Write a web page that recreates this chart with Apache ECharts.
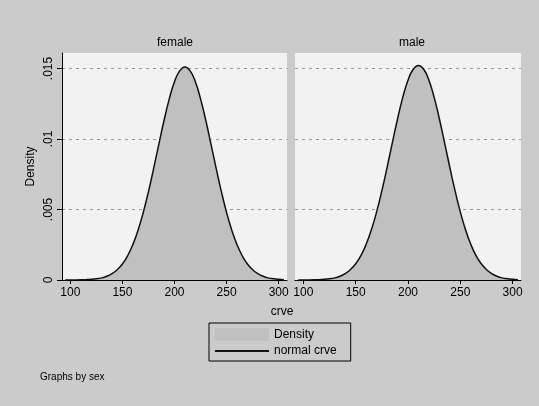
<!DOCTYPE html>
<html>
	<head>
		<meta charset="utf-8">
		<title>crve by sex</title>
		<script src="https://cdn.jsdelivr.net/npm/echarts@6/dist/echarts.min.js"></script>
		<style>
			body { margin: 0; background: #cbcbcb; }
			#main { width: 539px; height: 406px; }
		</style>
	</head>
	<body>
		<div id="main"></div>
		<script type="text/javascript">
			var crve = [95, 100, 105, 110, 115, 120, 125, 130, 135, 140, 145, 150, 155, 160, 165, 170, 175, 180, 185, 190,
				195, 200, 205, 210, 215, 220, 225, 230, 235, 240, 245, 250, 255, 260, 265, 270, 275, 280, 285, 290, 295, 300, 305];
			var female = [0.000001, 0.000003, 0.000006, 0.000012, 0.000023, 0.000045, 0.000085, 0.00015, 0.00027, 0.00045,
				0.00073, 0.00114, 0.00172, 0.00251, 0.00353, 0.00479, 0.00627, 0.00792, 0.00964, 0.01133,
				0.01285, 0.01406, 0.01483, 0.01510, 0.01483, 0.01406, 0.01285, 0.01133, 0.00964, 0.00792,
				0.00627, 0.00479, 0.00353, 0.00251, 0.00172, 0.00114, 0.00073, 0.00045, 0.00027, 0.00015,
				0.000085, 0.000045, 0.000023];
			var male = [0.000001, 0.000003, 0.000006, 0.000012, 0.000023, 0.000045, 0.000086, 0.00015, 0.00027, 0.00045,
				0.00074, 0.00115, 0.00173, 0.00253, 0.00356, 0.00483, 0.00632, 0.00798, 0.00972, 0.01142,
				0.01295, 0.01417, 0.01495, 0.01522, 0.01495, 0.01417, 0.01295, 0.01142, 0.00972, 0.00798,
				0.00632, 0.00483, 0.00356, 0.00253, 0.00173, 0.00115, 0.00074, 0.00045, 0.00027, 0.00015,
				0.000086, 0.000045, 0.000023];
			var panels = ['female', 'male'];
			var xTicks = [100, 150, 200, 250, 300];
			var yTicks = {'0': '0', '0.005': '.005', '0.01': '.01', '0.015': '.015'};

			function pairs(ys) {
				return crve.map(function(x, i) { return [x, ys[i]]; });
			}

			var font = 'Liberation Sans, Arial, sans-serif';
			var grids = [
				{left: 62, top: 53, width: 225, height: 227},
				{left: 295, top: 53, width: 226, height: 227}
			];
			grids.forEach(function(g) {
				g.show = true;
				g.backgroundColor = '#f2f2f2';
				g.borderWidth = 0;
			});

			var gridColor = '#9a9a9a';
			var xAxes = [], yAxes = [], series = [];
			panels.forEach(function(p, i) {
				xAxes.push({
					type: 'value', gridIndex: i, min: 92, max: 308,
					axisLine: {show: true, lineStyle: {color: '#000', width: 1}},
					axisTick: {show: true, length: 4, lineStyle: {color: '#000'}, customValues: xTicks},
					axisLabel: {color: '#000', fontSize: 12, fontFamily: font, margin: 7, customValues: xTicks},
					splitLine: {show: false}
				});
				yAxes.push({
					type: 'value', gridIndex: i, min: 0, max: 0.0161, interval: 0.005,
					name: i == 0 ? 'Density' : '',
					nameLocation: 'middle', nameGap: 25, nameRotate: 90,
					nameTextStyle: {color: '#000', fontSize: 12, fontFamily: font},
					axisLine: {show: i == 0, lineStyle: {color: '#000', width: 1}},
					axisTick: {show: i == 0, length: 5, lineStyle: {color: '#000'}},
					axisLabel: {
						show: i == 0, color: '#000', fontSize: 12, fontFamily: font, rotate: 90, margin: 7,
						showMaxLabel: false,
						formatter: function(v) { return yTicks[String(v)] || ''; }
					},
					splitLine: {
						show: true,
						lineStyle: {color: ['rgba(0,0,0,0)', gridColor, gridColor, gridColor, 'rgba(0,0,0,0)'], type: [3, 4], width: 1}
					}
				});
				var ys = i == 0 ? female : male;
				series.push({
					name: 'Density', type: 'line', xAxisIndex: i, yAxisIndex: i,
					data: pairs(ys), smooth: true, showSymbol: false, symbol: 'none',
					lineStyle: {width: 0, opacity: 0},
					itemStyle: {color: '#c0c0c0'},
					areaStyle: {color: '#c0c0c0', opacity: 1},
					silent: true, z: 2
				});
				series.push({
					name: 'normal crve', type: 'line', xAxisIndex: i, yAxisIndex: i,
					data: pairs(ys), smooth: true, showSymbol: false, symbol: 'none',
					lineStyle: {color: '#111', width: 1.5},
					itemStyle: {color: '#111'},
					silent: true, z: 3
				});
			});

			var chart = echarts.init(document.getElementById('main'));
			chart.setOption({
				backgroundColor: '#cbcbcb',
				animation: false,
				title: [
					{text: 'female', left: 175, top: 37, textAlign: 'center', padding: 0,
						textStyle: {color: '#000', fontSize: 12, fontWeight: 'normal', fontFamily: font}},
					{text: 'male', left: 412, top: 37, textAlign: 'center', padding: 0,
						textStyle: {color: '#000', fontSize: 12, fontWeight: 'normal', fontFamily: font}},
					{text: 'crve', left: 282, top: 306, textAlign: 'center', padding: 0,
						textStyle: {color: '#000', fontSize: 12, fontWeight: 'normal', fontFamily: font}},
					{text: 'Graphs by sex', left: 40, top: 372, padding: 0,
						textStyle: {color: '#000', fontSize: 10, fontWeight: 'normal', fontFamily: font}}
				],
				legend: {
					orient: 'vertical', left: 209, top: 323,
					padding: [5, 14, 4, 5], itemGap: 4,
					itemWidth: 54, itemHeight: 13,
					borderColor: '#000', borderWidth: 1,
					backgroundColor: '#cbcbcb',
					textStyle: {color: '#000', fontSize: 12, fontFamily: font},
					data: [
						{name: 'Density', icon: 'rect'},
						{name: 'normal crve', itemStyle: {opacity: 0}}
					]
				},
				grid: grids,
				xAxis: xAxes,
				yAxis: yAxes,
				series: series
			});
		</script>
	</body>
</html>
